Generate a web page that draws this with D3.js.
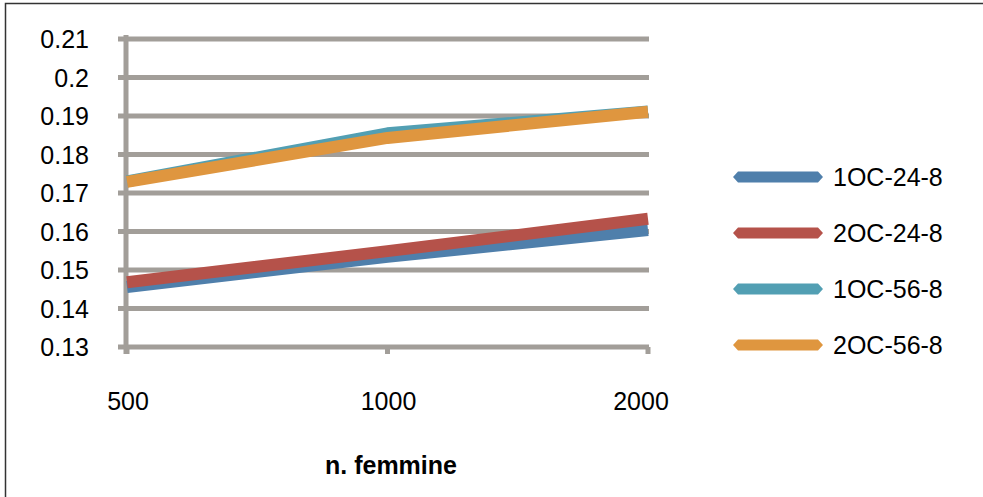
<!DOCTYPE html>
<html>
<head>
<meta charset="utf-8">
<script src="https://cdn.jsdelivr.net/npm/d3@7"></script>
<style>
  html, body { margin: 0; padding: 0; background: #fff; }
  svg { display: block; }
  text { font-family: "Liberation Sans", Arial, sans-serif; }
</style>
</head>
<body>
<svg id="chart" width="983" height="497"></svg>
<script>
const categories = ["500", "1000", "2000"];
const seriesNames = ["1OC-24-8", "2OC-24-8", "1OC-56-8", "2OC-56-8"];
const s1OC248 = [0.1456, 0.1534, 0.1604];
const s2OC248 = [0.1468, 0.1549, 0.1633];
const s1OC568 = [0.1730, 0.1855, 0.1912];
const s2OC568 = [0.1729, 0.1843, 0.1911];
const yTicks = [0.13, 0.14, 0.15, 0.16, 0.17, 0.18, 0.19, 0.2, 0.21];
const xTitle = "n. femmine";
const colors = ["#4f7fab", "#b5524a", "#529fb3", "#df963f"];

const seriesValues = [s1OC248, s2OC248, s1OC568, s2OC568];
const svg = d3.select("#chart");

// outer border
svg.append("rect").attr("x", 5.5).attr("y", 3.5).attr("width", 1000).attr("height", 1000)
  .attr("fill", "none").attr("stroke", "#333").attr("stroke-width", 1.5);

const x = d3.scalePoint().domain(categories).range([127, 648]);
const y = d3.scaleLinear().domain([0.13, 0.21]).range([347, 39]);
const grid = "#a29e99";

// gridlines with left tick stubs
svg.append("g").selectAll("line").data(yTicks).join("line")
  .attr("x1", 118).attr("x2", 649)
  .attr("y1", d => y(d)).attr("y2", d => y(d))
  .attr("stroke", grid).attr("stroke-width", 5);

// vertical axis line
svg.append("line").attr("x1", 126).attr("x2", 126).attr("y1", 35).attr("y2", 354)
  .attr("stroke", grid).attr("stroke-width", 5);

// x ticks
svg.append("g").selectAll("line").data(categories).join("line")
  .attr("x1", d => x(d)).attr("x2", d => x(d))
  .attr("y1", y(0.13)).attr("y2", 354)
  .attr("stroke", grid).attr("stroke-width", 5);

// y tick labels
svg.append("g").selectAll("text").data(yTicks).join("text")
  .attr("x", 89).attr("y", d => y(d) + 9)
  .attr("text-anchor", "end").attr("font-size", 25).attr("fill", "#000")
  .text(d => d3.format("")(+d.toFixed(2)));

// x tick labels
svg.append("g").selectAll("text").data(categories).join("text")
  .attr("x", (d, i) => x(d) + (i === 2 ? -7 : 1)).attr("y", 410)
  .attr("text-anchor", "middle").attr("font-size", 25).attr("fill", "#000")
  .text(d => d);

// x title
svg.append("text").attr("x", 391).attr("y", 474).attr("text-anchor", "middle")
  .attr("font-size", 25).attr("font-weight", "bold").attr("fill", "#000").text(xTitle);

// lines
const line = d3.line().x((d, i) => x(categories[i])).y(d => y(d));
svg.append("g").selectAll("path").data(seriesValues).join("path")
  .attr("d", d => line(d))
  .attr("fill", "none")
  .attr("stroke", (d, i) => colors[i])
  .attr("stroke-width", 12)
  .attr("stroke-linejoin", "round")
  .attr("stroke-linecap", "butt");

// legend
const lg = svg.append("g");
seriesNames.forEach((name, i) => {
  const ly = 177 + i * 56;
  const x0 = 733, x1 = 823, h = 5.5, tip = 5;
  lg.append("path")
    .attr("d", `M${x0},${ly} L${x0 + tip},${ly - h} L${x1 - tip},${ly - h} L${x1},${ly} L${x1 - tip},${ly + h} L${x0 + tip},${ly + h} Z`)
    .attr("fill", colors[i]);
  lg.append("text").attr("x", 833).attr("y", ly + 9)
    .attr("font-size", 25).attr("fill", "#000").text(name);
});
</script>
</body>
</html>
